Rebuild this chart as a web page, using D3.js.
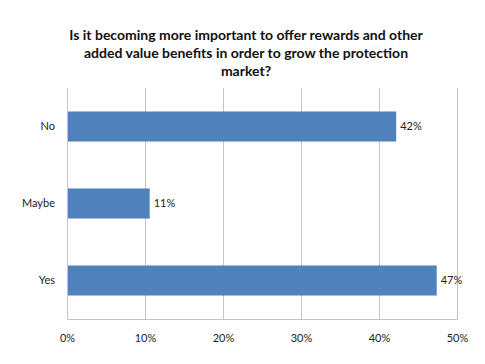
<!DOCTYPE html>
<html>
<head>
<meta charset="utf-8">
<script src="https://cdn.jsdelivr.net/npm/d3@7"></script>
<style>
  body { margin: 0; background: #fff; }
  text { font-family: Lato, "Open Sans", sans-serif; fill: #222; }
</style>
</head>
<body>
<div id="chart"></div>
<script>
let width = 485
let height = 364

// data
let categories = ['No', 'Maybe', 'Yes']
let values = [0.422, 0.106, 0.474]
let labels = ['42%', '11%', '47%']
let xTicks = [0, 0.1, 0.2, 0.3, 0.4, 0.5]
let titleLines = ['Is it becoming more important to offer rewards and other',
                  'added value benefits in order to grow the protection',
                  'market?']

let margin = {top: 88, right: 28, bottom: 45, left: 67}

let svg = d3.select('#chart').append('svg')
            .attr('width', width)
            .attr('height', height)

let xScale = d3.scaleLinear()
               .domain([0, 0.5])
               .range([margin.left, width - margin.right])

let yScale = d3.scaleBand()
               .domain(categories)
               .range([margin.top, height - margin.bottom])
               .paddingInner(0.61)
               .paddingOuter(0.305)

// -- gridlines
svg.append('g')
   .selectAll('line')
   .data(xTicks)
   .enter()
   .append('line')
   .attr('x1', d => xScale(d) + 0.5)
   .attr('x2', d => xScale(d) + 0.5)
   .attr('y1', margin.top)
   .attr('y2', height - margin.bottom)
   .style('stroke', '#c4c4c4')
   .style('stroke-width', 1)

// -- x axis
let xAxis = d3.axisBottom(xScale)
              .tickValues(xTicks)
              .tickFormat(d3.format('.0%'))
              .tickSize(0)
              .tickPadding(15)
svg.append('g')
   .attr('transform', 'translate(0,' + (height - margin.bottom) + ')')
   .call(xAxis)
   .call(g => g.select('.domain').style('stroke', '#c4c4c4'))
   .call(g => g.selectAll('text').style('font-size', '11px').style('fill', '#222'))

// -- y axis labels
let yAxis = d3.axisLeft(yScale).tickSize(0).tickPadding(12)
svg.append('g')
   .attr('transform', 'translate(' + margin.left + ',0)')
   .call(yAxis)
   .call(g => g.select('.domain').remove())
   .call(g => g.selectAll('text').style('font-size', '11px').style('fill', '#222'))

// -- bars
svg.selectAll('.bar')
   .data(categories)
   .enter()
   .append('rect')
   .attr('class', 'bar')
   .attr('x', xScale(0) + 1)
   .attr('y', d => yScale(d))
   .attr('width', (d, i) => xScale(values[i]) - xScale(0) - 1)
   .attr('height', yScale.bandwidth())
   .style('fill', '#4f81bd')

// -- value labels
svg.selectAll('.val')
   .data(categories)
   .enter()
   .append('text')
   .attr('class', 'val')
   .attr('x', (d, i) => xScale(values[i]) + 4)
   .attr('y', d => yScale(d) + yScale.bandwidth() / 2)
   .attr('dy', '0.35em')
   .style('font-size', '11px')
   .text((d, i) => labels[i])

// -- title
svg.append('g')
   .selectAll('text')
   .data(titleLines)
   .enter()
   .append('text')
   .attr('x', 246)
   .attr('y', (d, i) => 40 + i * 18)
   .attr('text-anchor', 'middle')
   .style('font-size', '14px')
   .style('font-weight', 'bold')
   .style('fill', '#111')
   .text(d => d)
</script>
</body>
</html>
